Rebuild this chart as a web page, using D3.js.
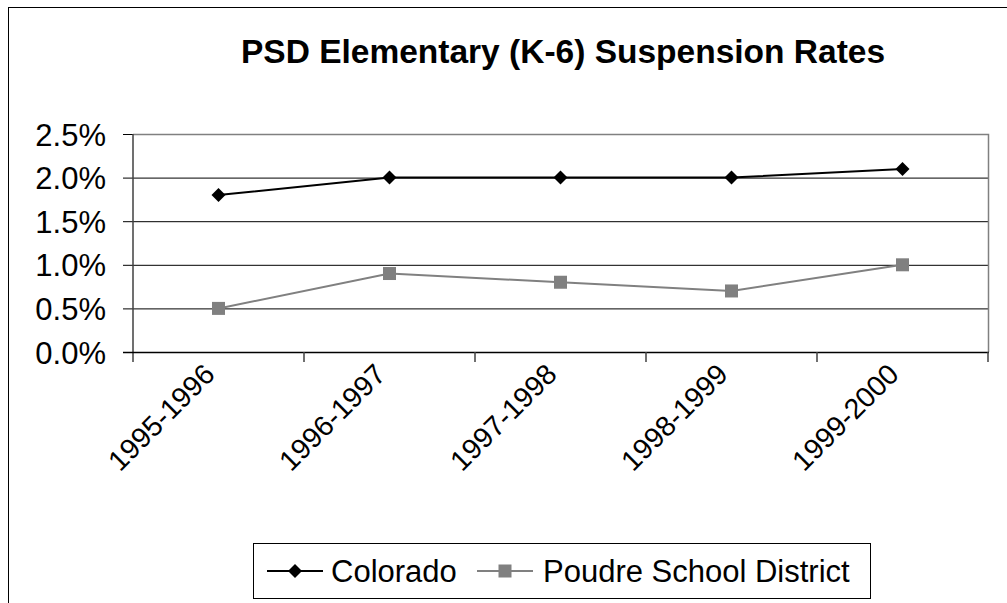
<!DOCTYPE html>
<html>
<head>
<meta charset="utf-8">
<script src="https://cdn.jsdelivr.net/npm/d3@7/dist/d3.min.js"></script>
<style>
  body { margin: 0; background: #fff; }
  svg text { font-family: "Liberation Sans", Arial, sans-serif; fill: #000; }
</style>
</head>
<body>
<div id="chart"></div>
<script>
// data
let years = ["1995-1996", "1996-1997", "1997-1998", "1998-1999", "1999-2000"];
let colorado = [0.018, 0.020, 0.020, 0.020, 0.021];
let poudre = [0.005, 0.009, 0.008, 0.007, 0.010];
let yTicks = [0, 0.005, 0.010, 0.015, 0.020, 0.025];
let seriesNames = ["Colorado", "Poudre School District"];

function drawChart() {
  var W = 1007, H = 603;
  var plot = {left: 133, right: 988, top: 134, bottom: 352};

  var svg = d3.select("#chart")
    .append("svg")
    .attr("width", W)
    .attr("height", H);

  // outer chart border (right/bottom are cut off in the picture)
  svg.append("rect")
    .attr("x", 8.5).attr("y", 7.5)
    .attr("width", W + 20).attr("height", H + 20)
    .attr("fill", "#fff")
    .attr("stroke", "#000").attr("stroke-width", 1);

  svg.append("text")
    .attr("x", 563).attr("y", 63)
    .attr("text-anchor", "middle")
    .style("font-size", "33.5px")
    .style("font-weight", "bold")
    .text("PSD Elementary (K-6) Suspension Rates");

  var x = d3.scaleBand()
    .domain(years)
    .range([plot.left, plot.right]);

  var y = d3.scaleLinear()
    .domain([0, 0.025])
    .range([plot.bottom, plot.top]);

  // gridlines + left ticks
  var yAxis = svg.append("g")
    .attr("transform", "translate(" + plot.left + ",0)")
    .call(d3.axisLeft(y)
      .tickValues(yTicks)
      .tickFormat(d3.format(".1%"))
      .tickSize(10)
      .tickPadding(17));
  yAxis.select(".domain").remove();
  yAxis.selectAll("line").attr("stroke", "#000");
  yAxis.selectAll("text")
    .style("font-size", "31px")
    .attr("font-family", null)
    .attr("dy", "0.36em");

  svg.append("g")
    .attr("transform", "translate(" + plot.left + ",0)")
    .call(d3.axisLeft(y).tickValues(yTicks.slice(1, -1)).tickSize(-(plot.right - plot.left)).tickFormat(""))
    .call(g => g.select(".domain").remove())
    .selectAll("line").attr("stroke", "#000");

  // plot border top/right
  svg.append("path")
    .attr("d", "M" + plot.left + "," + (plot.top + 0.5) + "H" + (plot.right + 0.5) + "V" + plot.bottom)
    .attr("fill", "none")
    .attr("stroke", "#808080")
    .attr("stroke-width", 1.5);

  // left axis line
  svg.append("line")
    .attr("x1", plot.left).attr("x2", plot.left)
    .attr("y1", plot.top).attr("y2", plot.bottom + 10)
    .attr("stroke", "#404040").attr("stroke-width", 1.5);

  // bottom axis + ticks at category boundaries
  var bounds = years.map(d => x(d)).concat([plot.right]);
  svg.append("line")
    .attr("x1", plot.left - 10).attr("x2", plot.right + 1)
    .attr("y1", plot.bottom + 0.5).attr("y2", plot.bottom + 0.5)
    .attr("stroke", "#000").attr("stroke-width", 1.5);
  svg.append("g").selectAll("line")
    .data(bounds.slice(1))
    .enter().append("line")
    .attr("x1", d => d).attr("x2", d => d)
    .attr("y1", plot.bottom).attr("y2", plot.bottom + 10)
    .attr("stroke", "#404040").attr("stroke-width", 1.5);

  svg.append("g").selectAll("text")
    .data(years)
    .enter().append("text")
    .attr("text-anchor", "end")
    .attr("transform", d => "translate(" + (x(d) + x.bandwidth() / 2 - 2) + "," + (plot.bottom + 24) + ") rotate(-45)")
    .style("font-size", "28.5px")
    .text(d => d);

  var cx = d => x(d) + x.bandwidth() / 2;
  var line = d3.line()
    .x((d, i) => cx(years[i]))
    .y(d => y(d));

  svg.append("path")
    .datum(poudre)
    .attr("d", line)
    .attr("fill", "none")
    .attr("stroke", "#808080")
    .attr("stroke-width", 2);

  svg.append("g").selectAll("rect")
    .data(poudre)
    .enter().append("rect")
    .attr("x", (d, i) => cx(years[i]) - 6.5)
    .attr("y", d => y(d) - 6.5)
    .attr("width", 13).attr("height", 13)
    .attr("fill", "#808080");

  svg.append("path")
    .datum(colorado)
    .attr("d", line)
    .attr("fill", "none")
    .attr("stroke", "#000")
    .attr("stroke-width", 2);

  var diamond = d3.symbol().type(d3.symbolDiamond2).size(125);
  svg.append("g").selectAll("path")
    .data(colorado)
    .enter().append("path")
    .attr("d", diamond)
    .attr("transform", (d, i) => "translate(" + cx(years[i]) + "," + y(d) + ")")
    .attr("fill", "#000");

  // legend
  var leg = svg.append("g");
  leg.append("rect")
    .attr("x", 253.5).attr("y", 543.5)
    .attr("width", 617).attr("height", 55)
    .attr("fill", "#fff")
    .attr("stroke", "#000").attr("stroke-width", 1);

  var ly = 571;
  var items = [
    {name: seriesNames[0], x0: 267, color: "#000", tx: 331},
    {name: seriesNames[1], x0: 477, color: "#808080", tx: 543}
  ];
  items.forEach((it, k) => {
    leg.append("line")
      .attr("x1", it.x0).attr("x2", it.x0 + 56)
      .attr("y1", ly).attr("y2", ly)
      .attr("stroke", it.color).attr("stroke-width", 2);
    if (k == 0) {
      leg.append("path")
        .attr("d", diamond)
        .attr("transform", "translate(" + (it.x0 + 28) + "," + ly + ")")
        .attr("fill", it.color);
    } else {
      leg.append("rect")
        .attr("x", it.x0 + 28 - 6.5).attr("y", ly - 6.5)
        .attr("width", 13).attr("height", 13)
        .attr("fill", it.color);
    }
    leg.append("text")
      .attr("x", it.tx).attr("y", ly)
      .attr("dy", "0.36em")
      .style("font-size", "31px")
      .text(it.name);
  });
}

drawChart();
</script>
</body>
</html>
